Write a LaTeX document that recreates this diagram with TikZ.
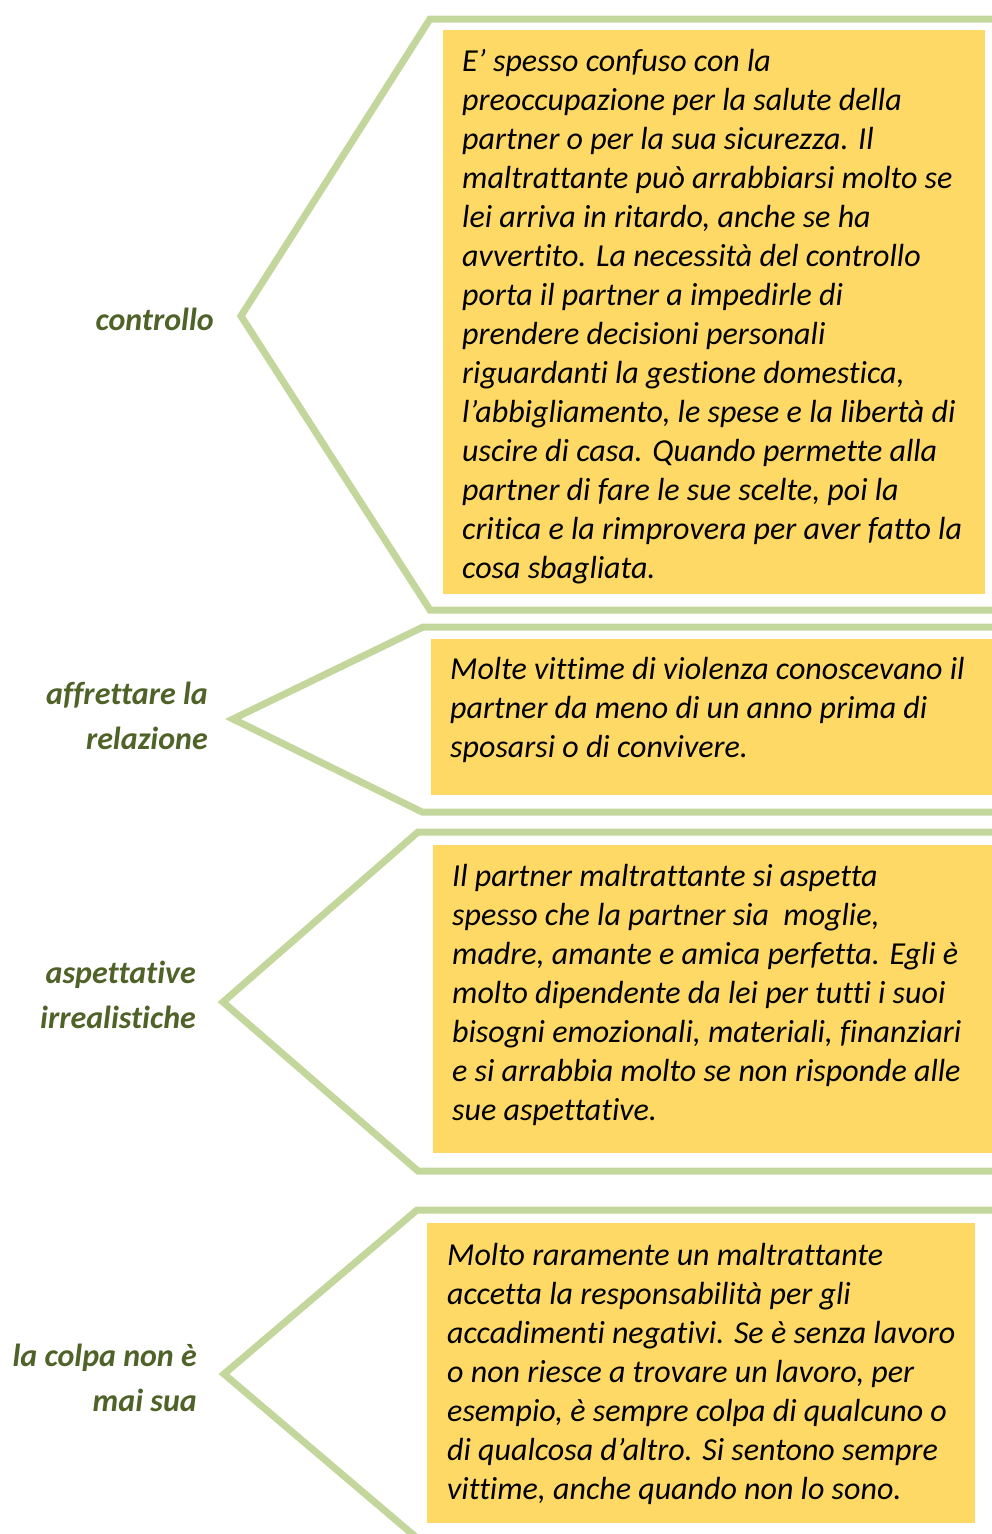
\documentclass[tikz,border=0pt]{standalone}
\usepackage{fontspec}
\setmainfont{Carlito}[Ligatures={TeX,NoCommon}]
\definecolor{brk}{HTML}{C3D69B}
\definecolor{boxfill}{HTML}{FFD966}
\definecolor{lbl}{HTML}{4F6228}
\begin{document}
\begin{tikzpicture}[x=1pt,y=-1pt,
  bracket/.style={draw=brk,line width=7pt,miter limit=10},
  panel/.style={fill=boxfill,draw=none},
  body/.style={anchor=base west,inner sep=0pt,align=left,font=\fontsize{32}{39}\selectfont\itshape},
  label/.style={anchor=base east,inner sep=0pt,align=right,text=lbl,font=\fontsize{32}{45}\selectfont\bfseries\itshape}]
\useasboundingbox (0,0) rectangle (992,1534);
\clip (0,0) rectangle (992,1534);
% brackets
\draw[bracket] (1000,19) -- (430,19) -- (241,316) -- (430,610) -- (1000,610);
\draw[bracket] (1000,627) -- (423,627) -- (233,719) -- (422,812) -- (1000,812);
\draw[bracket] (1000,832) -- (418,832) -- (223,1002) -- (418,1171) -- (1000,1171);
\draw[bracket] (1000,1210) -- (417,1210) -- (224,1374) -- (417,1538) -- (1000,1538);
% panels
\path[panel] (443,30) rectangle (985,594);
\path[panel] (431,639) rectangle (992,795);
\path[panel] (433,845) rectangle (992,1153);
\path[panel] (427,1223) rectangle (975,1523);
% texts (anchored at the baseline of their last line)
\node[body] (t1) at (462,578) {E’ spesso confuso con la\\preoccupazione per la salute della\\partner o per la sua sicurezza. Il\\maltrattante può arrabbiarsi molto se\\lei arriva in ritardo, anche se ha\\avvertito. La necessità del controllo\\porta il partner a impedirle di\\prendere decisioni personali\\riguardanti la gestione domestica,\\l’abbigliamento, le spese e la libertà di\\uscire di casa. Quando permette alla\\partner di fare le sue scelte, poi la\\critica e la rimprovera per aver fatto la\\cosa sbagliata.};
\node[body] (t2) at (450,757) {Molte vittime di violenza conoscevano il\\partner da meno di un anno prima di\\sposarsi o di convivere.};
\node[body] (t3) at (452,1120) {Il partner maltrattante si aspetta\\spesso che la partner sia\ \ moglie,\\madre, amante e amica perfetta. Egli è\\molto dipendente da lei per tutti i suoi\\bisogni emozionali, materiali, finanziari\\e si arrabbia molto se non risponde alle\\sue aspettative.};
\node[body] (t4) at (447,1499) {Molto raramente un maltrattante\\accetta la responsabilità per gli\\accadimenti negativi. Se è senza lavoro\\o non riesce a trovare un lavoro, per\\esempio, è sempre colpa di qualcuno o\\di qualcosa d’altro. Si sentono sempre\\vittime, anche quando non lo sono.};
% labels (anchored at the baseline of their last line)
\node[label] (l1) at (214,330) {controllo};
\node[label] (l2) at (208,749) {affrettare la\\relazione};
\node[label] (l3) at (196,1028) {aspettative\\irrealistiche};
\node[label] (l4) at (197,1411) {la colpa non è\\mai sua};
\end{tikzpicture}
\end{document}
